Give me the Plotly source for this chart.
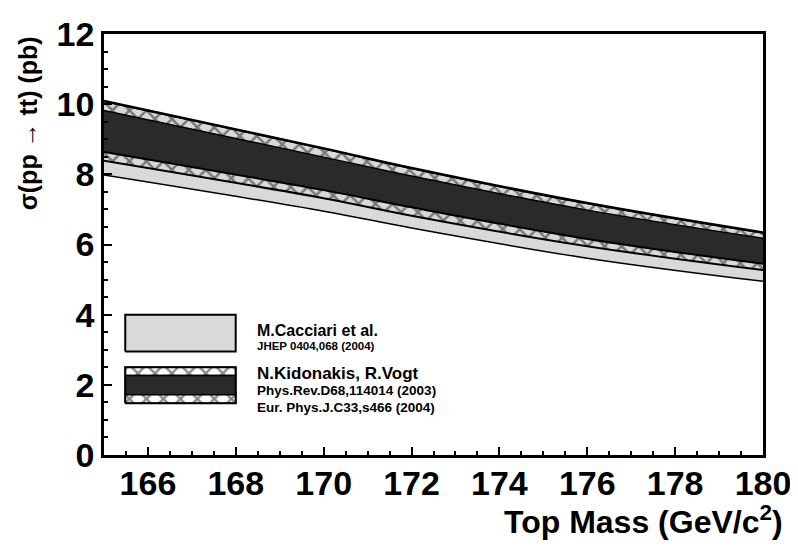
import plotly.graph_objects as go

# ---- data ----
mass = [165, 170, 172, 176, 180]
cacciari_low = [7.98, 6.95, 6.47, 5.61, 4.95]
cacciari_high = [10.07, 8.72, 8.16, 7.16, 6.32]
kv_lower = [8.39, 7.32, 6.82, 5.95, 5.27]
kv_dark_bottom = [8.64, 7.55, 7.06, 6.16, 5.45]
kv_dark_top = [9.82, 8.49, 7.95, 6.98, 6.18]
kv_upper = [10.09, 8.74, 8.18, 7.18, 6.34]

legend_titles = ["M.Cacciari et al.", "N.Kidonakis, R.Vogt"]
legend_refs = [["JHEP 0404,068 (2004)"],
               ["Phys.Rev.D68,114014 (2003)", "Eur. Phys.J.C33,s466 (2004)"]]

FONT = "Liberation Sans"
GRAY = "#d9d9d9"
DARK = "#2a2a2a"
hatch = dict(shape="x", fgcolor="#111111", bgcolor="rgba(0,0,0,0)", size=12, solidity=0.35)
hatch_w = dict(shape="x", fgcolor="#111111", bgcolor="white", size=12, solidity=0.35)

# The page body adds an 8px offset; plot area targets (window px):
# left 103.5, right 770, top 15, bottom 455
OFF = 8
FIG_W, FIG_H = 798 - OFF, 548 - OFF
PL, PR, PT, PB = 103.5, 770, 15, 455
PW, PH = PR - PL, PB - PT

def px(xw):
    return (xw - PL) / PW

def py(yw):
    return (PB - yw) / PH

fig = go.Figure()

def band_edge(y, width, fill=None, fillcolor=None, pattern=None, xaxis="x", yaxis="y", x=None, shape="spline"):
    kw = dict(x=mass if x is None else x, y=y, mode="lines",
              line=dict(color="black", width=width, shape=shape),
              showlegend=False, hoverinfo="skip", xaxis=xaxis, yaxis=yaxis)
    if fill:
        kw["fill"] = fill
    if fillcolor:
        kw["fillcolor"] = fillcolor
    if pattern:
        kw["fillpattern"] = pattern
    fig.add_trace(go.Scatter(**kw))

# Cacciari band
band_edge(cacciari_low, 1.5)
band_edge(cacciari_high, 1.0, fill="tonexty", fillcolor=GRAY)
# Kidonakis-Vogt band
band_edge(kv_lower, 2.0)
band_edge(kv_dark_bottom, 2.0, fill="tonexty", fillcolor="rgba(0,0,0,0)", pattern=hatch)
band_edge(kv_dark_top, 1.5, fill="tonexty", fillcolor=DARK)
band_edge(kv_upper, 2.5, fill="tonexty", fillcolor="rgba(0,0,0,0)", pattern=hatch)

# ---- legend drawn on an overlay axis in plot-area fractions ----
bx0, bx1 = px(125), px(236.7)
def rect(y0, y1, fillcolor, pattern=None, width=2.0):
    band_edge([y0, y0, y1, y1, y0], width, fill="toself", fillcolor=fillcolor,
              pattern=pattern, xaxis="x2", yaxis="y2",
              x=[bx0, bx1, bx1, bx0, bx0], shape="linear")

rect(py(346.7), py(308.3), GRAY)
rect(py(372), py(363.3), "white", pattern=hatch_w, width=1.5)
rect(py(392), py(372), DARK, width=1.5)
rect(py(401), py(392), "white", pattern=hatch_w, width=1.5)
band_edge([py(401), py(401), py(363.3), py(363.3), py(401)], 2.0, xaxis="x2", yaxis="y2",
          x=[bx0, bx1, bx1, bx0, bx0], shape="linear")

ann = [
    dict(text=legend_titles[0], yw=325, size=16),
    dict(text=legend_refs[0][0], yw=341, size=11.5),
    dict(text=legend_titles[1], yw=370, size=17),
    dict(text=legend_refs[1][0], yw=388, size=13.5),
    dict(text=legend_refs[1][1], yw=405, size=13.5),
]
annotations = [dict(text=a["text"], x=px(257), y=py(a["yw"]), xref="paper", yref="paper",
                    xanchor="left", yanchor="middle", showarrow=False, borderpad=0,
                    font=dict(family=FONT, size=a["size"], color="black", weight="bold"))
               for a in ann]
annotations.append(dict(text="Top Mass (GeV/c<sup>2</sup>)", x=px(791), y=py(523),
                        xref="paper", yref="paper", borderpad=0,
                        xanchor="right", yanchor="middle", showarrow=False,
                        font=dict(family=FONT, size=32, color="black", weight="bold")))
annotations.append(dict(text="σ(pp → tt) (pb)", x=px(27), y=py(16),
                        xref="paper", yref="paper", borderpad=0,
                        xanchor="center", yanchor="top", textangle=-90, showarrow=False,
                        font=dict(family=FONT, size=25, color="black", weight="bold")))

axis_common = dict(showgrid=False, zeroline=False, showline=True, linecolor="black",
                   linewidth=2.5, mirror=True, ticks="inside", ticklen=8, tickwidth=2,
                   tickcolor="black", ticklabeloverflow="allow",
                   tickfont=dict(family=FONT, size=34, color="black", weight="bold"),
                   minor=dict(ticks="inside", ticklen=4, tickwidth=1.5, tickcolor="black",
                              dtick=0.5, showgrid=False))

fig.update_layout(
    width=FIG_W, height=FIG_H,
    margin=dict(l=PL - OFF, r=FIG_W - (PR - OFF), t=PT - OFF, b=FIG_H - (PB - OFF)),
    paper_bgcolor="white", plot_bgcolor="white",
    xaxis=dict(range=[165, 180], dtick=2, tick0=166, ticklabelstandoff=-4, **axis_common),
    yaxis=dict(range=[0, 12], dtick=2, tick0=0, **axis_common),
    xaxis2=dict(domain=[0, 1], range=[0, 1], visible=False, overlaying="x", anchor="y2", fixedrange=True),
    yaxis2=dict(range=[0, 1], visible=False, overlaying="y", anchor="x2", fixedrange=True),
    annotations=annotations,
    showlegend=False,
)

fig.write_html("out.html")
